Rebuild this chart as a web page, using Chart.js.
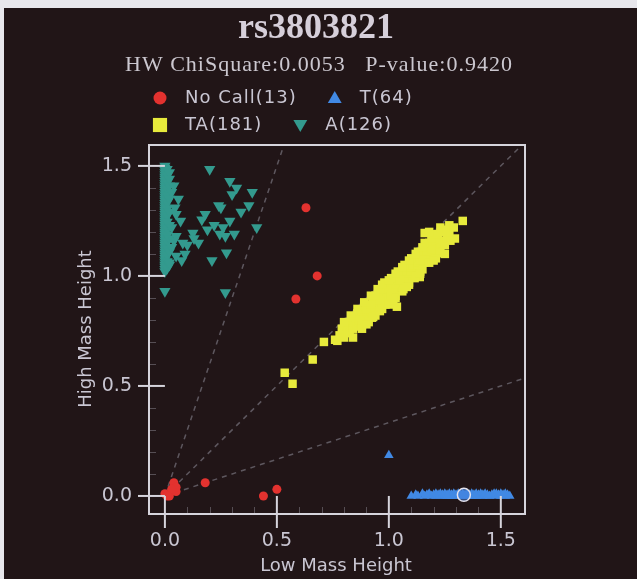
<!DOCTYPE html>
<html>
<head>
<meta charset="utf-8">
<script src="https://cdn.jsdelivr.net/npm/chart.js@4/dist/chart.umd.min.js"></script>
<style>
  html, body { margin: 0; padding: 0; background: #e8e7ec; }
  #wrap {
    position: absolute; left: 4px; top: 8px;
    width: 633px; height: 571px;
    background: #211517;
  }
</style>
</head>
<body>
<div id="wrap"><canvas id="graphCanvas"></canvas></div>
<script>
// クラスタープロット（Low Mass / High Mass）

const snpId = "rs3803821";
const hwChiSquare = "0.0053";
const pValue = "0.9420";

const categories = ["No Call", "T", "TA", "A"];
const counts = [13, 64, 181, 126];

const xTicks = [0.0, 0.5, 1.0, 1.5];
const yTicks = [0.0, 0.5, 1.0, 1.5];

// 判定境界の傾き (High / Low)
const ratioLines = [3, 1, 1 / 3];

// [Low Mass Height, High Mass Height]
const noCallPts = [
  [0.00, 0.01], [0.02, 0.00], [0.04, 0.06], [0.05, 0.02], [0.05, 0.04],
  [0.03, 0.03], [0.01, 0.00], [0.18, 0.06], [0.44, 0.00], [0.50, 0.03],
  [0.585, 0.895], [0.63, 1.31], [0.68, 1.00],
];

const tPts = [
  [1.00, 0.185],
  [1.10, 0.00], [1.12, 0.005], [1.13, 0.00], [1.15, 0.01], [1.16, 0.00],
  [1.17, 0.005], [1.18, 0.01], [1.19, 0.00], [1.20, 0.005], [1.21, 0.01],
  [1.21, 0.00], [1.22, 0.005], [1.23, 0.00], [1.23, 0.01], [1.24, 0.005],
  [1.25, 0.00], [1.25, 0.01], [1.26, 0.005], [1.27, 0.00], [1.27, 0.01],
  [1.28, 0.005], [1.28, 0.00], [1.29, 0.01], [1.30, 0.005], [1.30, 0.00],
  [1.31, 0.01], [1.32, 0.005], [1.32, 0.00], [1.33, 0.01], [1.34, 0.005],
  [1.35, 0.00], [1.35, 0.01], [1.36, 0.005], [1.37, 0.00], [1.37, 0.01],
  [1.38, 0.005], [1.38, 0.00], [1.39, 0.01], [1.40, 0.005], [1.40, 0.00],
  [1.41, 0.01], [1.42, 0.005], [1.42, 0.00], [1.43, 0.01], [1.44, 0.005],
  [1.45, 0.00], [1.46, 0.005], [1.47, 0.01], [1.48, 0.00], [1.48, 0.01],
  [1.49, 0.005], [1.50, 0.00], [1.50, 0.01], [1.51, 0.005], [1.52, 0.00],
  [1.52, 0.01], [1.53, 0.005], [1.54, 0.00], [1.26, 0.00], [1.33, 0.00],
  [1.39, 0.00], [1.44, 0.00], [1.29, 0.00],
];

const taPts = [
  [0.535, 0.56], [0.57, 0.51], [0.66, 0.62], [0.71, 0.70], [0.77, 0.705],
  [0.76, 0.71], [0.78, 0.73], [0.79, 0.76], [0.795, 0.745], [0.80, 0.72],
  [0.81, 0.77], [0.815, 0.75], [0.82, 0.79], [0.825, 0.74], [0.83, 0.77],
  [0.835, 0.80], [0.84, 0.76], [0.845, 0.79], [0.85, 0.81], [0.855, 0.77],
  [0.86, 0.83], [0.865, 0.79], [0.87, 0.81], [0.875, 0.78], [0.88, 0.84],
  [0.885, 0.80], [0.89, 0.82], [0.895, 0.86], [0.90, 0.83], [0.905, 0.80],
  [0.91, 0.85], [0.915, 0.87], [0.92, 0.84], [0.925, 0.81], [0.93, 0.86],
  [0.935, 0.89], [0.94, 0.85], [0.945, 0.88], [0.95, 0.90], [0.955, 0.86],
  [0.96, 0.92], [0.965, 0.88], [0.97, 0.90], [0.975, 0.94], [0.98, 0.91],
  [0.985, 0.87], [0.99, 0.93], [0.995, 0.95], [1.00, 0.92], [1.005, 0.89],
  [1.01, 0.96], [1.015, 0.93], [1.02, 0.97], [1.025, 0.94], [1.03, 0.91],
  [1.035, 0.98], [1.04, 0.95], [1.045, 0.99], [1.05, 0.96], [1.055, 1.00],
  [1.06, 0.97], [1.065, 0.94], [1.07, 1.01], [1.075, 0.98], [1.08, 1.03],
  [1.085, 1.00], [1.09, 0.97], [1.095, 1.04], [1.10, 1.01], [1.105, 1.06],
  [1.11, 1.03], [1.115, 0.99], [1.12, 1.07], [1.125, 1.04], [1.13, 1.09],
  [1.135, 1.05], [1.14, 1.02], [1.145, 1.08], [1.15, 1.11], [1.155, 1.06],
  [1.16, 1.10], [1.165, 1.13], [1.17, 1.08], [1.175, 1.12], [1.18, 1.15],
  [1.185, 1.10], [1.19, 1.14], [1.20, 1.12], [1.205, 1.17], [1.21, 1.14],
  [1.22, 1.11], [1.225, 1.16], [1.23, 1.13], [1.24, 1.15], [1.25, 1.14],
  [1.26, 1.17], [1.275, 1.16], [1.295, 1.17], [1.16, 1.195], [1.22, 1.19],
  [1.27, 1.20], [1.27, 1.23], [1.33, 1.25],
  [0.87, 0.80], [0.90, 0.85], [0.93, 0.88], [0.95, 0.87], [0.97, 0.92],
  [0.99, 0.90], [1.00, 0.94], [1.02, 0.95], [1.03, 0.96], [1.04, 0.98],
  [1.06, 1.00], [1.07, 0.99], [1.08, 1.01], [1.09, 1.02], [1.10, 1.04],
  [1.11, 1.05], [1.12, 1.05], [1.13, 1.06], [1.14, 1.07], [1.15, 1.09],
  [0.93, 0.814], [1.036, 0.86], [1.138, 0.995], [0.88, 0.777], [1.228, 1.104],
  [0.98, 0.89], [1.01, 0.91], [0.92, 0.87], [0.96, 0.89], [1.05, 0.98],
  [1.06, 1.02], [1.09, 1.05], [1.17, 1.11], [1.19, 1.12],
  [0.80, 0.79], [0.83, 0.82], [0.86, 0.85], [0.89, 0.88], [0.92, 0.91],
  [0.95, 0.94], [0.98, 0.97], [1.01, 0.99], [1.04, 1.02], [1.07, 1.05],
  [1.10, 1.08], [1.13, 1.11], [1.16, 1.15], [1.19, 1.17], [1.21, 1.19],
  [1.24, 1.20], [1.18, 1.20], [1.23, 1.22], [1.26, 1.21], [1.29, 1.22],
  [0.84, 0.72], [0.88, 0.76], [0.91, 0.79], [0.94, 0.82], [0.97, 0.85],
  [1.00, 0.87], [1.03, 0.90], [1.06, 0.93], [1.09, 0.96], [1.12, 1.00],
  [1.15, 1.03], [1.18, 1.06], [1.21, 1.08], [1.25, 1.10], [0.94, 0.91],
  [0.97, 0.96], [1.00, 0.98], [1.03, 1.01], [1.06, 1.04], [1.09, 1.07],
  [1.12, 1.10], [1.15, 1.13], [0.90, 0.78], [0.96, 0.84], [1.02, 0.89],
  [1.08, 0.95], [1.14, 1.01], [1.20, 1.07],
];

const aPts = [
  // x ≈ 0 の縦の列
  [0.00, 1.50], [0.00, 1.49], [0.00, 1.48], [0.00, 1.47], [0.00, 1.46],
  [0.00, 1.45], [0.00, 1.44], [0.00, 1.43], [0.00, 1.42], [0.00, 1.41],
  [0.00, 1.40], [0.00, 1.39], [0.00, 1.38], [0.00, 1.37], [0.00, 1.36],
  [0.00, 1.35], [0.00, 1.34], [0.00, 1.33], [0.00, 1.32], [0.00, 1.31],
  [0.00, 1.30], [0.00, 1.29], [0.00, 1.28], [0.00, 1.27], [0.00, 1.26],
  [0.00, 1.25], [0.00, 1.24], [0.00, 1.23], [0.00, 1.22], [0.00, 1.21],
  [0.00, 1.20], [0.00, 1.19], [0.00, 1.18], [0.00, 1.17], [0.00, 1.16],
  [0.00, 1.15], [0.00, 1.14], [0.00, 1.13], [0.00, 1.12], [0.00, 1.11],
  [0.00, 1.10], [0.00, 1.09], [0.00, 1.08], [0.00, 1.07], [0.00, 1.06],
  [0.00, 1.05], [0.00, 1.04], [0.00, 1.03], [0.00, 1.02],
  [0.01, 1.485], [0.01, 1.455], [0.01, 1.425], [0.01, 1.395], [0.01, 1.365],
  [0.01, 1.335], [0.01, 1.305], [0.01, 1.275], [0.01, 1.245], [0.01, 1.215],
  [0.01, 1.185], [0.01, 1.155], [0.01, 1.125], [0.01, 1.095], [0.01, 1.065],
  [0.01, 1.035], [0.02, 1.47], [0.02, 1.41], [0.02, 1.35], [0.02, 1.29],
  [0.02, 1.23], [0.02, 1.17], [0.02, 1.11], [0.02, 1.05],
  // 列から外れた点
  [0.20, 1.485], [0.29, 1.43], [0.32, 1.40], [0.30, 1.37], [0.39, 1.38],
  [0.06, 1.35], [0.03, 1.38], [0.24, 1.32], [0.25, 1.31], [0.375, 1.32],
  [0.34, 1.29], [0.045, 1.31], [0.18, 1.28], [0.07, 1.25], [0.165, 1.255],
  [0.26, 1.22], [0.41, 1.22], [0.03, 1.22], [0.125, 1.195], [0.245, 1.19],
  [0.27, 1.18], [0.15, 1.15], [0.08, 1.15], [0.04, 1.16], [0.10, 1.14],
  [0.275, 1.105], [0.05, 1.09], [0.075, 1.07], [0.21, 1.07], [0.00, 0.93],
  [0.27, 0.925], [0.02, 1.44], [0.04, 1.41], [0.05, 1.28], [0.03, 1.13],
  [0.05, 1.18], [0.02, 1.06], [0.09, 1.10], [0.13, 1.17], [0.19, 1.21],
  [0.22, 1.23], [0.29, 1.25], [0.31, 1.19],
];

// 選択中のサンプル
const selectedPts = [[1.335, 0.005]];

const seriesPts = [noCallPts, tPts, taPts, aPts];
const seriesColors = ["#e3322f", "#4189e4", "#e7ea3c", "#339a8e"];
const seriesStyles = [
  { pointStyle: "circle", radius: 4.5, rotation: 0, legendRadius: 6.5 },
  { pointStyle: "triangle", radius: 5.5, rotation: 0, legendRadius: 8 },
  { pointStyle: "rect", radius: 6, rotation: 0, legendRadius: 10 },
  { pointStyle: "triangle", radius: 6.5, rotation: 180, legendRadius: 8 },
];

const X_MIN = -0.071, X_MAX = 1.608;
const Y_MIN = -0.082, Y_MAX = 1.595;

const toXY = (pts) => pts.map(([x, y]) => ({ x, y }));

/** 文字色・線色 */
const textColor = "#c9c6d2";
const frameColor = "#d6d4dc";

/**
 * 文字を描く（letterSpacing 対応）
 */
const drawText = (ctx, text, x, y, font, align, spacing = 0, color = textColor) => {
  ctx.save();
  ctx.font = font;
  ctx.fillStyle = color;
  ctx.textAlign = align;
  ctx.textBaseline = "middle";
  if ("letterSpacing" in ctx) ctx.letterSpacing = spacing + "px";
  ctx.fillText(text, x, y);
  ctx.restore();
};

/**
 * 枠・目盛り・タイトル・凡例を描くプラグイン
 */
const decorPlugin = {
  id: "decor",
  beforeDatasetsDraw(chart) {
    const { ctx, chartArea: a, scales } = chart;
    // 補助目盛り（0.1 刻み）
    ctx.save();
    ctx.strokeStyle = "rgba(150,148,160,0.45)";
    ctx.lineWidth = 1;
    for (let i = 0; i <= 15; i++) {
      if (i % 5 === 0) continue;
      const v = i / 10;
      const px = Math.round(scales.x.getPixelForValue(v)) + 0.5;
      const py = Math.round(scales.y.getPixelForValue(v)) + 0.5;
      ctx.beginPath();
      ctx.moveTo(px, a.bottom);
      ctx.lineTo(px, a.bottom - 7);
      ctx.moveTo(a.left, py);
      ctx.lineTo(a.left + 7, py);
      ctx.stroke();
    }
    ctx.restore();
  },
  afterDraw(chart) {
    const { ctx, chartArea: a, scales } = chart;
    const x0 = scales.x.getPixelForValue(0);
    const y0 = scales.y.getPixelForValue(0);

    ctx.save();
    ctx.strokeStyle = frameColor;
    ctx.lineWidth = 2;
    ctx.strokeRect(a.left, a.top, a.right - a.left, a.bottom - a.top);

    // 主目盛り
    yTicks.forEach((v) => {
      const py = scales.y.getPixelForValue(v);
      ctx.beginPath();
      ctx.moveTo(a.left - 11, py);
      ctx.lineTo(x0, py);
      ctx.stroke();
    });
    xTicks.forEach((v) => {
      const px = scales.x.getPixelForValue(v);
      ctx.beginPath();
      ctx.moveTo(px, y0);
      ctx.lineTo(px, a.bottom + 14);
      ctx.stroke();
    });
    ctx.restore();

    const tickFont = "19px 'DejaVu Sans'";
    yTicks.forEach((v) => {
      drawText(ctx, v.toFixed(1), a.left - 17, scales.y.getPixelForValue(v), tickFont, "right");
    });
    xTicks.forEach((v) => {
      drawText(ctx, v.toFixed(1), scales.x.getPixelForValue(v), a.bottom + 27, tickFont, "center");
    });

    // 軸タイトル
    const axisFont = "18px 'DejaVu Sans'";
    drawText(ctx, "Low Mass Height", 332, 558, axisFont, "center");
    ctx.save();
    ctx.translate(82, 321);
    ctx.rotate(-Math.PI / 2);
    drawText(ctx, "High Mass Height", 0, 0, axisFont, "center");
    ctx.restore();

    // タイトル
    drawText(ctx, snpId, 312, 21, "bold 36px 'Liberation Serif'", "center", 0, "#d6cfda");
    drawText(ctx, `HW ChiSquare:${hwChiSquare}   P-value:${pValue}`, 315, 57,
      "22px 'Liberation Serif'", "center", 1, "#cbc7cf");

    // 凡例（2 行）
    const rows = [[0, 1], [2, 3]];
    const legendFont = "18px 'DejaVu Sans'";
    rows.forEach((row, r) => {
      const y = 90 + r * 27;
      let x = 156;
      row.forEach((i) => {
        const st = seriesStyles[i];
        ctx.save();
        ctx.fillStyle = seriesColors[i];
        ctx.strokeStyle = seriesColors[i];
        ctx.lineWidth = 1;
        Chart.helpers.drawPoint(ctx, {
          pointStyle: st.pointStyle,
          radius: st.legendRadius,
          rotation: st.rotation,
        }, x, y + (st.pointStyle === "triangle" ? (st.rotation ? -1 : 1) : 0));
        ctx.restore();
        const label = `${categories[i]}(${counts[i]})`;
        drawText(ctx, label, x + 25, y, legendFont, "left", 1);
        ctx.save();
        ctx.font = legendFont;
        if ("letterSpacing" in ctx) ctx.letterSpacing = "1px";
        const w = ctx.measureText(label).width;
        ctx.restore();
        x += 25 + w + 38;
      });
    });
  },
};

/**
 * データセットを組み立てる
 */
const buildDatasets = () => {
  const sets = seriesPts.map((pts, i) => ({
    label: `${categories[i]}(${counts[i]})`,
    data: toXY(pts),
    pointStyle: seriesStyles[i].pointStyle,
    pointRadius: seriesStyles[i].radius,
    rotation: seriesStyles[i].rotation,
    backgroundColor: seriesColors[i],
    borderColor: seriesColors[i],
    borderWidth: 0,
    order: 4 - i,
  }));

  sets.push({
    label: "selected",
    data: toXY(selectedPts),
    pointStyle: "circle",
    pointRadius: 6.5,
    backgroundColor: "rgba(70,130,220,0.55)",
    borderColor: "#e4e2ec",
    borderWidth: 1.5,
    order: 0,
  });

  // 原点からの境界線
  ratioLines.forEach((k) => {
    const endX = Math.min(X_MAX, Y_MAX / k);
    sets.push({
      label: "ratio",
      type: "line",
      data: [{ x: 0, y: 0 }, { x: endX, y: endX * k }],
      borderColor: "rgba(120,116,126,0.7)",
      borderWidth: 1.5,
      borderDash: [5, 5],
      pointRadius: 0,
      order: 10,
    });
  });
  return sets;
};

const ctx = document.getElementById("graphCanvas").getContext("2d");
const graphChart = new Chart(ctx, {
  type: "scatter",
  data: { datasets: buildDatasets() },
  options: {
    animation: false,
    responsive: true,
    maintainAspectRatio: false,
    layout: { padding: { left: 145, top: 137, right: 112, bottom: 65 } },
    plugins: {
      legend: { display: false },
      tooltip: { enabled: false },
    },
    scales: {
      x: { type: "linear", display: false, min: X_MIN, max: X_MAX },
      y: { type: "linear", display: false, min: Y_MIN, max: Y_MAX },
    },
  },
  plugins: [decorPlugin],
});
</script>
</body>
</html>
